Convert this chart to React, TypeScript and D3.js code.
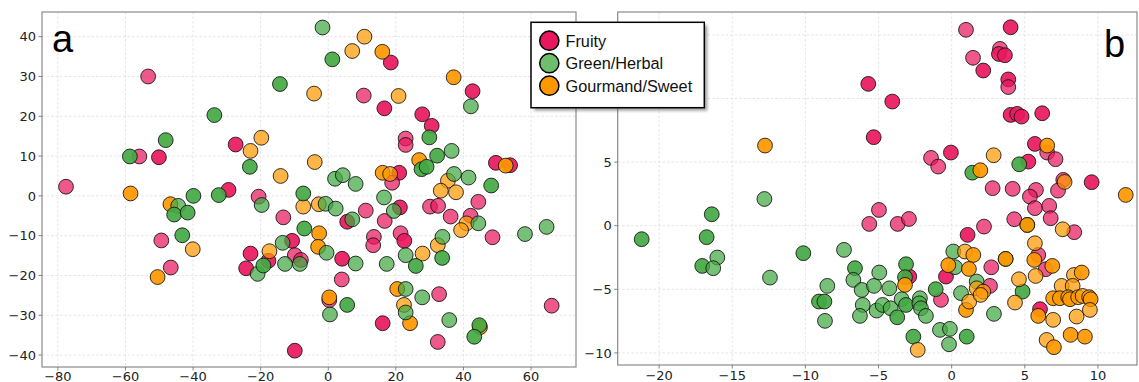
import React from "react";
import * as d3 from "d3";

// ---------- DATA ----------
// [x, y, strong(1) / faint(0)]
type P = [number, number, number];

const categories = ["Fruity", "Green/Herbal", "Gourmand/Sweet"];

const aFruity: P[] = [
  [-53.3, 30.0, 0], [-55.9, 9.9, 0], [-50.1, 9.7, 1], [-27.4, 12.9, 1], [-77.6, 2.3, 0],
  [-29.5, 1.5, 1], [-20.6, -0.2, 0], [-49.4, -11.2, 0], [-46.6, -18.0, 0], [-13.3, -5.4, 0],
  [-23.0, -14.5, 1], [-24.3, -18.2, 1], [-17.7, -16.3, 1], [-10.7, -11.3, 1], [-9.9, -38.9, 1],
  [-9.9, -14.9, 0], [-8.1, -16.1, 0], [11.1, -3.7, 0], [5.6, -6.5, 1], [4.1, -15.8, 1],
  [18.5, 33.5, 1], [10.5, 25.2, 0], [16.6, 22.0, 1], [42.7, 26.3, 1], [27.8, 20.5, 1],
  [30.6, 17.6, 1], [22.9, 14.4, 0], [22.9, 12.8, 0], [21.0, 5.8, 1], [18.9, 3.3, 0],
  [49.6, 8.3, 1], [53.8, 7.7, 1], [21.2, -2.9, 1], [30.1, -2.7, 0], [32.5, -2.5, 0],
  [44.4, -1.5, 0], [36.2, -5.2, 0], [16.7, -6.3, 0], [42.1, -5.0, 0], [48.6, -10.4, 0],
  [13.5, -10.3, 0], [13.3, -12.4, 0], [21.4, -9.4, 0], [22.5, -11.3, 1], [4.0, -21.0, 0],
  [0.3, -26.2, 0], [16.1, -32.0, 1], [32.8, -24.7, 0], [32.4, -36.7, 0], [66.1, -27.6, 0],
];

const aGreen: P[] = [
  [-14.3, 28.1, 1], [-33.7, 20.3, 1], [-48.1, 14.0, 1], [-58.7, 9.9, 1], [-23.2, 7.3, 1],
  [-39.9, 0.0, 1], [-32.4, 0.2, 1], [-44.4, -2.5, 0], [-45.6, -4.7, 1], [-41.6, -4.2, 1],
  [-43.2, -9.9, 1], [-19.7, -2.3, 0], [-20.9, -19.6, 0], [-19.2, -17.5, 1], [-13.5, -11.8, 0],
  [-12.8, -17.1, 0], [-8.4, -17.1, 0], [-7.4, 0.6, 1], [-0.8, -2.0, 0], [2.2, -3.2, 0],
  [7.1, -5.9, 0], [-7.1, -8.2, 1], [-0.5, -14.3, 0], [8.1, -17.0, 0], [2.0, 4.3, 0],
  [4.3, 5.2, 0], [8.1, 3.0, 0], [-1.7, 42.3, 0], [1.2, 34.3, 1], [42.2, 22.5, 0],
  [29.9, 14.7, 1], [32.2, 10.1, 1], [36.5, 11.3, 0], [27.6, 6.7, 1], [29.1, 7.3, 1],
  [37.2, 5.5, 0], [41.5, 4.6, 0], [48.2, 2.6, 1], [16.5, -0.4, 0], [19.4, -3.8, 0],
  [44.4, -6.9, 0], [58.2, -9.6, 0], [64.6, -7.8, 0], [33.8, -10.3, 0], [22.9, -14.9, 0],
  [33.7, -15.6, 1], [17.3, -17.1, 0], [25.9, -17.6, 1], [0.5, -29.8, 0], [5.6, -27.4, 1],
  [22.9, -23.4, 0], [22.9, -29.3, 0], [27.8, -25.5, 0], [35.8, -31.2, 0], [44.7, -32.5, 1],
  [43.2, -35.4, 1],
];

const aGourmand: P[] = [
  [-23.0, 11.3, 0], [-19.8, 14.6, 0], [-14.1, 5.0, 0], [-58.5, 0.6, 1], [-46.7, -2.1, 1],
  [-40.1, -13.4, 0], [-50.5, -20.4, 1], [-17.4, -13.9, 0], [-4.0, 8.5, 0], [-7.4, -2.7, 0],
  [-2.8, -2.1, 0], [-2.7, -9.4, 1], [-3.0, -12.8, 1], [10.7, 40.0, 0], [7.1, 36.4, 0],
  [16.0, 36.2, 1], [-4.2, 25.7, 0], [20.8, 25.1, 0], [37.1, 29.8, 1], [26.9, 9.0, 1],
  [16.1, 5.8, 1], [18.3, 5.5, 0], [35.4, 3.8, 0], [33.3, 1.3, 0], [37.8, 0.9, 0],
  [52.5, 7.6, 1], [40.9, -6.9, 0], [39.3, -8.6, 0], [32.4, -12.4, 0], [27.9, -14.5, 0],
  [0.3, -25.5, 1], [20.4, -23.4, 1], [22.4, -27.4, 0], [24.2, -32.0, 1], [44.9, -33.0, 1],
];

const bFruity: P[] = [
  [0.98, 15.4, 0], [4.03, 15.6, 1], [3.3, 13.9, 0], [3.23, 13.5, 1], [3.64, 13.4, 1],
  [1.46, 13.2, 0], [2.16, 12.2, 1], [3.87, 11.5, 1], [3.87, 10.9, 0], [-5.7, 11.15, 1],
  [-4.06, 9.76, 1], [-5.33, 6.96, 1], [4.03, 8.71, 1], [4.48, 8.79, 1], [4.78, 8.58, 1],
  [6.19, 8.84, 1], [5.69, 6.43, 1], [6.53, 5.75, 0], [7.1, 5.23, 0], [-1.41, 5.33, 0],
  [-0.92, 4.65, 0], [-0.05, 5.75, 1], [5.24, 5.04, 1], [2.8, 2.95, 0], [4.17, 2.9, 0],
  [5.76, 2.81, 0], [5.35, 2.29, 0], [7.63, 3.6, 0], [7.27, 2.76, 0], [9.57, 3.42, 1],
  [-4.97, 1.24, 0], [-5.63, 0.14, 0], [-3.69, 0.14, 0], [-2.92, 0.53, 0], [2.21, -0.07, 0],
  [1.09, -0.72, 1], [2.71, -3.27, 0], [-0.39, -4.0, 1], [-2.9, -4.0, 1], [-0.73, -5.83, 0],
  [2.62, -4.73, 0], [5.69, 1.38, 0], [6.67, 1.56, 0], [6.77, 0.59, 0], [4.28, 0.51, 0],
  [8.38, -0.51, 0], [5.92, -2.3, 0], [6.43, -3.42, 0], [6.04, -6.56, 1],
];

const bGreen: P[] = [
  [-12.8, 2.1, 0], [-21.19, -1.06, 1], [-16.4, 0.9, 1], [-16.75, -0.9, 1], [-17.05, -3.16, 1],
  [-16.02, -2.5, 0], [-16.3, -3.34, 0], [-12.42, -4.08, 0], [-10.14, -2.16, 1], [-7.36, -1.9, 0],
  [-6.61, -3.34, 1], [-6.72, -4.26, 0], [-8.5, -4.73, 0], [-9.07, -5.96, 1], [-8.7, -5.96, 1],
  [-8.66, -7.48, 0], [-6.15, -5.05, 0], [-5.31, -4.73, 0], [-4.95, -3.68, 0], [-4.26, -4.92, 0],
  [-3.12, -3.03, 1], [-3.19, -4.05, 1], [-6.08, -6.23, 0], [-6.27, -7.09, 0], [-5.13, -6.67, 0],
  [-4.72, -6.23, 0], [-4.17, -6.49, 0], [-3.72, -7.2, 1], [-3.42, -5.78, 0], [-3.12, -6.23, 1],
  [-2.17, -5.7, 0], [-2.21, -6.1, 0], [-2.1, -6.49, 0], [-1.76, -7.09, 0], [-1.09, -4.99, 1],
  [0.64, -5.3, 0], [-0.8, -8.19, 0], [-0.12, -8.11, 0], [-0.18, -9.32, 0], [-2.62, -8.72, 1],
  [1.03, -8.72, 1], [2.89, -6.93, 0], [1.71, -4.39, 0], [0.11, -2.03, 0], [0.23, -3.26, 0],
  [1.41, 4.17, 1], [4.62, 4.83, 1], [4.85, -5.18, 1], [3.69, -2.61, 1], [5.17, 0.06, 1],
];

const bGourmand: P[] = [
  [-12.76, 6.3, 1], [2.87, 5.54, 0], [1.96, 4.36, 1], [6.53, 6.3, 1], [7.72, 3.44, 0],
  [11.9, 2.42, 1], [0.91, -2.03, 0], [1.48, -2.3, 1], [-0.23, -3.1, 1], [1.18, -3.4, 1],
  [-3.19, -4.65, 1], [1.71, -4.92, 0], [2.16, -5.18, 0], [0.98, -6.62, 1], [1.2, -5.97, 0],
  [1.98, -5.44, 0], [-2.32, -9.76, 0], [3.69, -2.61, 1], [4.6, -4.21, 0], [4.33, -6.04, 0],
  [5.17, 0.06, 1], [7.59, -0.28, 0], [5.69, -1.38, 0], [5.65, -2.69, 1], [5.74, -3.95, 0],
  [6.88, -3.16, 1], [8.36, -3.87, 0], [8.89, -3.68, 1], [7.52, -4.73, 0], [8.27, -4.73, 0],
  [6.94, -5.7, 1], [7.4, -5.7, 1], [7.97, -5.62, 0], [8.09, -5.78, 1], [8.65, -5.62, 0],
  [8.95, -5.52, 0], [9.4, -5.62, 1], [9.5, -5.78, 1], [5.92, -7.09, 1], [6.94, -7.4, 0],
  [8.54, -7.14, 0], [9.45, -6.62, 0], [6.49, -8.98, 0], [6.99, -9.55, 1], [8.13, -8.58, 1],
  [9.11, -8.72, 1],
];

const aXTicks = [-80, -60, -40, -20, 0, 20, 40, 60];
const aYTicks = [-40, -30, -20, -10, 0, 10, 20, 30, 40];
const bXTicks = [-20, -15, -10, -5, 0, 5, 10];
const bYTicks = [-10, -5, 0, 5, 10, 15];
// labels of panel b at 10 and 15 are hidden behind the legend in the reference
const bYTickLabels = [-10, -5, 0, 5];

// ---------- STYLE ----------
const colors = ["#e8185e", "#43a843", "#ff9800"];
const legendColors = ["#e8185e", "#6dbf6d", "#ff9800"];
const opacity = d3.scaleLinear().domain([0, 1]).range([0.72, 0.92]);
const R = 7.4;
const fmt = (v: number) => (v < 0 ? "\u2212" + Math.abs(v) : String(v));

interface PanelProps {
  x0: number; x1: number; y0: number; y1: number;
  xDom: [number, number]; yDom: [number, number];
  xTicks: number[]; yTicks: number[]; yLabels: number[];
  layers: { data: P[]; cat: number }[];
  label: string; labelX: number; labelY: number;
  xLabelY: number;
}

function Panel(p: PanelProps) {
  const x = d3.scaleLinear().domain(p.xDom).range([p.x0, p.x1]);
  const y = d3.scaleLinear().domain(p.yDom).range([p.y1, p.y0]);
  const font = "DejaVu Sans, sans-serif";
  return (
    <g>
      <rect x={p.x0} y={p.y0} width={p.x1 - p.x0} height={p.y1 - p.y0} fill="#fff" />
      {p.xTicks.map((t) => (
        <line key={"gx" + t} x1={x(t)} x2={x(t)} y1={p.y0} y2={p.y1} stroke="#dedede" strokeWidth={0.8} strokeDasharray="2.5,2" />
      ))}
      {p.yTicks.map((t) => (
        <line key={"gy" + t} x1={p.x0} x2={p.x1} y1={y(t)} y2={y(t)} stroke="#dedede" strokeWidth={0.8} strokeDasharray="2.5,2" />
      ))}
      {p.layers.map((l, li) =>
        l.data.map((d, i) => (
          <circle
            key={li + "-" + i}
            cx={x(d[0])}
            cy={y(d[1])}
            r={R}
            fill={colors[l.cat]}
            fillOpacity={opacity(d[2])}
            stroke="#111"
            strokeOpacity={0.85}
            strokeWidth={1}
          />
        ))
      )}
      <rect x={p.x0} y={p.y0} width={p.x1 - p.x0} height={p.y1 - p.y0} fill="none" stroke="#8a8a8a" strokeWidth={1.2} />
      {p.xTicks.map((t) => (
        <g key={"tx" + t}>
          <line x1={x(t)} x2={x(t)} y1={p.y1} y2={p.y1 + 3.5} stroke="#666" strokeWidth={0.8} />
          <text x={x(t)} y={p.xLabelY} textAnchor="middle" fontFamily={font} fontSize={13} fill="#222">{fmt(t)}</text>
        </g>
      ))}
      {p.yTicks.map((t) => (
        <line key={"ty" + t} x1={p.x0 - 3.5} x2={p.x0} y1={y(t)} y2={y(t)} stroke="#666" strokeWidth={0.8} />
      ))}
      {p.yLabels.map((t) => (
        <text key={"yl" + t} x={p.x0 - 6} y={y(t) + 4.7} textAnchor="end" fontFamily={font} fontSize={13} fill="#222">{fmt(t)}</text>
      ))}
      <text x={p.labelX} y={p.labelY} fontFamily="Liberation Sans, Arial, sans-serif" fontSize={38} fill="#000">{p.label}</text>
    </g>
  );
}

export default function App() {
  const lx = 531, ly = 22.3, lw = 173.3, lh = 85.4;
  return (
    <svg width={1139} height={382} style={{ position: "absolute", left: 0, top: 0, background: "#fff" }}>
      <defs>
        <filter id="sh" x="-10%" y="-10%" width="130%" height="140%">
          <feGaussianBlur stdDeviation="1.5" />
        </filter>
      </defs>
      <rect x={0} y={0} width={1139} height={382} fill="#fff" />
      <Panel
        x0={42} x1={576} y0={12} y1={367}
        xDom={[-84.7, 73.3]} yDom={[-43.0, 46.2]}
        xTicks={aXTicks} yTicks={aYTicks} yLabels={aYTicks}
        layers={[{ data: aFruity, cat: 0 }, { data: aGourmand, cat: 2 }, { data: aGreen, cat: 1 }]}
        label="a" labelX={52} labelY={51.5} xLabelY={381.2}
      />
      <Panel
        x0={617.7} x1={1137} y0={12} y1={365}
        xDom={[-22.83, 12.67]} yDom={[-10.95, 16.8]}
        xTicks={bXTicks} yTicks={bYTicks} yLabels={bYTickLabels}
        layers={[{ data: bFruity, cat: 0 }, { data: bGreen, cat: 1 }, { data: bGourmand, cat: 2 }]}
        label="b" labelX={1104} labelY={56.5} xLabelY={379.5}
      />
      <g>
        <rect x={lx + 3} y={ly + 3} width={lw} height={lh} fill="#555" opacity={0.55} filter="url(#sh)" />
        <rect x={lx} y={ly} width={lw} height={lh} fill="#fff" stroke="#000" strokeWidth={1.5} />
        {categories.map((c, i) => (
          <g key={c}>
            <circle cx={549.3} cy={40.7 + i * 22.5} r={9.6} fill={legendColors[i]} stroke="#000" strokeWidth={1.5} />
            <text x={565.5} y={40.7 + i * 22.5 + 5.8} fontFamily="Liberation Sans, Arial, sans-serif" fontSize={16.3} fill="#111">{c}</text>
          </g>
        ))}
      </g>
    </svg>
  );
}
